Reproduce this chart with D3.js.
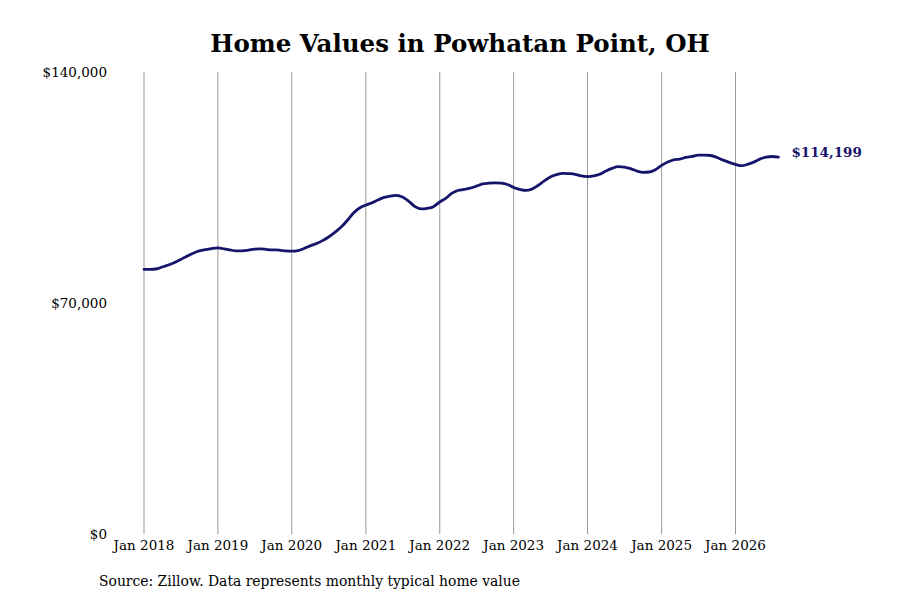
<!DOCTYPE html>
<html>
<head>
<meta charset="utf-8">
<script src="https://cdn.jsdelivr.net/npm/d3@7"></script>
<style>
  body { margin: 0; background: #fff; }
  text { font-family: "DejaVu Serif", serif; }
</style>
</head>
<body>
<script>
// monthly typical home value, Jan 2018 .. Aug 2026
let startMonth = new Date(2018, 0, 1);
let homeValues = [
  80200, 80200, 80300, 80900, 81500, 82300, 83200, 84200, 85100, 85800, 86200, 86500,
  86700, 86400, 86100, 85800, 85800, 86000, 86300, 86400, 86200, 86100, 86000, 85800,
  85700, 85900, 86500, 87300, 88000, 88900, 90000, 91400, 93000, 95000, 97300, 98800,
  99700, 100400, 101200, 102000, 102400, 102600, 102100, 100800, 99200, 98500, 98700, 99200,
  100600, 101800, 103200, 104100, 104400, 104800, 105400, 106100, 106300, 106400, 106300, 105900,
  105000, 104400, 104100, 104500, 105600, 107000, 108200, 108900, 109300, 109200, 109000, 108500,
  108300, 108500, 109000, 110000, 110800, 111300, 111200, 110700, 110000, 109600, 109700, 110400,
  111700, 112700, 113400, 113600, 114100, 114400, 114800, 114800, 114700, 114100, 113300, 112600,
  112000, 111600, 112000, 112700, 113600, 114200, 114400, 114199
];
let yTicks = [0, 70000, 140000];
let xTickYears = [2018, 2019, 2020, 2021, 2022, 2023, 2024, 2025, 2026];

let data = homeValues.map((v, i) => ({
  date: d3.timeMonth.offset(startMonth, i),
  value: v
}));

let width = 900, height = 600;
let svg = d3.select("body").append("svg")
  .attr("width", width)
  .attr("height", height);

let x = d3.scaleTime()
  .domain([new Date(2018, 0, 1), new Date(2026, 0, 1)])
  .range([144, 735.5]);

let y = d3.scaleLinear()
  .domain([0, 140000])
  .range([534, 72]);

// title
svg.append("text")
  .attr("x", 460)
  .attr("y", 52)
  .attr("text-anchor", "middle")
  .style("font-size", "24.5px")
  .style("font-weight", "bold")
  .text("Home Values in Powhatan Point, OH");

// vertical gridlines
let xTicks = xTickYears.map(yr => new Date(yr, 0, 1));
svg.append("g").selectAll("line")
  .data(xTicks)
  .enter().append("line")
  .attr("x1", d => x(d))
  .attr("x2", d => x(d))
  .attr("y1", y(140000))
  .attr("y2", y(0))
  .attr("stroke", "#999")
  .attr("stroke-width", 1);

// x labels
svg.append("g").selectAll("text")
  .data(xTicks)
  .enter().append("text")
  .attr("x", d => x(d))
  .attr("y", 550)
  .attr("text-anchor", "middle")
  .style("font-size", "13.5px")
  .text(d => d3.timeFormat("Jan %Y")(d));

// y labels
svg.append("g").selectAll("text")
  .data(yTicks)
  .enter().append("text")
  .attr("x", 107)
  .attr("y", d => y(d) + 5)
  .attr("text-anchor", "end")
  .style("font-size", "13.5px")
  .text(d => "$" + d3.format(",")(d));

// the line
let line = d3.line()
  .x(d => x(d.date))
  .y(d => y(d.value))
  .curve(d3.curveMonotoneX);

svg.append("path")
  .datum(data)
  .attr("d", line)
  .attr("fill", "none")
  .attr("stroke", "#16146b")
  .attr("stroke-width", 2.8)
  .attr("stroke-linejoin", "round")
  .attr("stroke-linecap", "round");

// end label
let last = data[data.length - 1];
svg.append("text")
  .attr("x", x(last.date) + 13)
  .attr("y", y(last.value))
  .style("font-size", "13.5px")
  .style("font-weight", "bold")
  .attr("fill", "#16146b")
  .text("$" + d3.format(",")(last.value));

// source
svg.append("text")
  .attr("x", 99)
  .attr("y", 586)
  .style("font-size", "13.9px")
  .text("Source: Zillow. Data represents monthly typical home value");
</script>
</body>
</html>
